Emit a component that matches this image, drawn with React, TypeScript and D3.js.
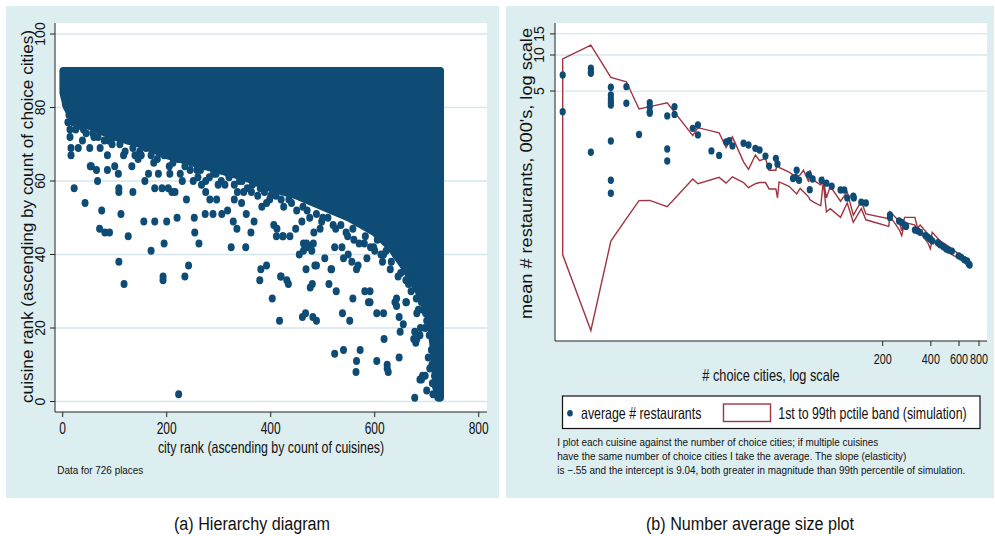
import React from "react";
import * as d3 from "d3";

const FONT = "'Liberation Sans', Arial, Helvetica, sans-serif";
const NAVY = "#0E4B75";
const MAROON = "#A03440";
const PANEL = "#DDEEF0";
const GRID = "#D5E7EC";

// ---- panel (a): hierarchy diagram ----
const xTicksA = [0, 200, 400, 600, 800];
const yTicksA = [0, 20, 40, 60, 80, 100];
const topCuisine = 90;
const lastCity = 726;
// lower edge of the solid block of points (city rank -> lowest cuisine rank)
const frontierCity = [1, 8, 20, 50, 100, 150, 200, 250, 300, 350, 400, 450, 500, 550, 600, 630, 655, 680, 700, 707, 712, 716, 719, 722];
const frontierCuisine = [84, 80, 77, 75, 72, 70, 67, 65, 63, 61, 58, 56, 53, 50, 46, 42, 37, 31, 26, 22, 16, 10, 4, 1];
// points hanging below the block: [city rank, cuisine rank]
const edgeA: [number, number][] = [
  [5, 81], [12, 78], [18, 77], [28, 76], [40, 74], [48, 76], [58, 73], [68, 72], [78, 74], [88, 71],
  [98, 72], [110, 70], [125, 71], [135, 69], [148, 68], [160, 69], [170, 67], [182, 66], [195, 67], [212, 65],
  [222, 66], [235, 64], [248, 65], [258, 63], [272, 64], [282, 61], [295, 62], [305, 60], [318, 62], [330, 59],
  [340, 60], [355, 58], [365, 59], [375, 56], [388, 57], [398, 55], [410, 56], [425, 53], [435, 55], [450, 52],
  [462, 53], [475, 50], [488, 51], [498, 49], [510, 50], [525, 47], [535, 48], [548, 45], [558, 47], [570, 43],
  [582, 45], [592, 42], [605, 44], [612, 40], [622, 41], [632, 38], [640, 40], [650, 35], [658, 37], [665, 32],
  [672, 34], [680, 28], [686, 30], [693, 25], [700, 22], [705, 18], [709, 14], [713, 12], [715, 7], [717, 4],
];
const scatterA: [number, number][] = [
  [3, 83], [10, 76], [14, 74], [14, 72], [16, 69], [16, 67], [22, 58], [30, 69], [38, 71], [43, 54],
  [52, 69], [53, 64], [55, 64], [65, 63], [67, 60], [72, 69], [75, 52], [71, 47], [81, 46], [90, 46],
  [86, 63], [86, 67], [100, 64], [107, 62], [108, 58], [108, 57], [112, 51], [108, 38], [118, 32], [126, 45],
  [133, 64], [135, 57], [117, 67], [139, 67], [151, 67], [156, 49], [177, 49], [200, 49], [158, 60], [177, 58],
  [165, 62], [184, 62], [170, 41], [195, 43], [191, 58], [203, 58], [210, 57], [216, 57], [220, 50], [206, 62],
  [226, 62], [230, 60], [238, 55], [242, 66], [245, 63], [253, 50], [254, 46], [262, 43], [251, 60], [260, 61],
  [267, 59], [275, 60], [275, 57], [274, 51], [289, 51], [283, 55], [296, 55], [299, 59], [312, 59], [306, 51],
  [317, 52], [324, 42], [352, 42], [328, 49], [335, 47], [353, 51], [362, 46], [368, 49], [193, 34], [193, 33],
  [235, 34], [242, 37], [223, 2], [330, 55], [336, 57], [344, 54], [348, 57], [363, 57], [383, 53], [392, 54],
  [406, 48], [412, 47], [423, 45], [437, 45], [448, 47], [460, 49], [455, 40], [463, 43], [472, 42], [479, 41],
  [483, 46], [495, 47], [504, 39], [523, 42], [540, 39], [549, 40], [585, 39], [598, 42], [617, 40], [620, 54],
  [379, 33], [381, 36], [392, 37], [403, 28], [417, 22], [420, 34], [431, 33], [434, 32], [461, 23], [467, 24],
  [468, 36], [481, 23], [488, 22], [476, 31], [480, 32], [485, 37], [516, 36], [512, 32], [526, 30], [523, 13],
  [540, 14], [538, 24], [552, 22], [558, 28], [565, 11], [564, 8], [572, 14], [604, 24], [617, 24], [604, 11],
  [618, 17], [624, 10], [624, 9], [626, 8], [639, 27], [647, 12], [649, 19], [647, 23], [655, 21], [660, 27],
  [677, 1], [675, 17], [679, 16], [687, 6], [692, 7], [688, 20], [700, 3], [703, 12], [706, 9], [411, 45],
  [424, 45], [419, 34], [463, 41], [469, 43], [482, 43], [488, 37], [517, 36], [537, 42], [556, 38], [565, 36],
  [568, 37], [581, 30], [591, 30], [588, 27], [591, 27], [642, 28], [642, 26], [661, 27], [677, 19], [681, 17],
  [687, 18], [690, 6], [697, 7], [703, 22], [697, 20], [681, 24], [684, 25], [710, 10], [711, 5], [712, 2],
  [20, 76], [25, 74], [35, 75], [45, 73], [60, 72], [80, 71], [95, 70], [120, 68], [145, 66], [175, 65],
  [205, 64], [265, 63], [290, 62], [320, 61], [345, 60], [380, 58], [400, 56], [420, 55], [440, 54], [470, 52],
  [500, 50], [520, 48], [545, 46], [560, 44], [580, 43], [600, 41], [615, 38], [630, 36], [645, 34], [660, 33],
  [670, 30], [690, 27], [698, 24],
];

// ---- panel (b): number average size plot ----
const xTicksB = [200, 400, 600, 800];
const yTicksB = [5, 10, 15];
const pointCities = [2, 2, 3, 3, 3, 3, 4, 4, 4, 4, 4, 4, 4, 4, 5, 5, 6, 7, 7, 7, 7, 9, 9, 9, 10, 10, 13, 14, 14, 17, 19, 21, 22, 23, 27, 29, 32, 34, 37, 39, 43, 44, 55, 57, 58, 60, 69, 70, 73, 83, 89, 96, 109, 115, 120, 131, 132, 147, 157, 222, 222, 253, 263, 274, 280, 318, 330, 343, 370, 383, 397, 408, 442, 457, 479, 499, 516, 542, 597, 618, 648, 674, 689, 699];
const pointMean = [6.81, 3.36, 7.74, 7.25, 7.03, 1.54, 5.37, 4.63, 4.29, 4.03, 3.82, 1.91, 0.9, 0.7, 5.44, 3.95, 2.17, 3.99, 3.7, 3.36, 3.26, 3.1, 1.64, 1.3, 3.7, 3.19, 2.44, 2.6, 2.15, 1.58, 1.45, 1.88, 1.92, 1.74, 1.83, 1.77, 1.66, 1.61, 1.43, 1.18, 1.37, 1.23, 0.93, 0.95, 1.09, 0.9, 1.0, 0.75, 0.92, 0.9, 0.85, 0.8, 0.745, 0.745, 0.64, 0.66, 0.64, 0.59, 0.58, 0.46, 0.44, 0.41, 0.4, 0.38, 0.37, 0.345, 0.34, 0.33, 0.31, 0.3, 0.29, 0.28, 0.27, 0.26, 0.25, 0.24, 0.235, 0.23, 0.21, 0.205, 0.195, 0.19, 0.18, 0.176];
const bandCities = [2, 3, 4, 5, 6, 7, 9, 13, 14, 19, 21, 23, 27, 29, 32, 34, 37, 39, 43, 44, 45, 52, 58, 61, 64, 69, 70, 74, 82, 85, 89, 94, 109, 120, 131, 147, 157, 218, 222, 253, 263, 274, 318, 330, 343, 383, 397, 408, 457, 499, 542, 618, 699];
const bandHigh = [9.26, 12.1, 6.51, 5.98, 3.54, 3.7, 3.99, 2.12, 2.47, 2.24, 1.69, 2.07, 1.28, 1.11, 1.46, 1.31, 1.37, 1.09, 1.09, 1.33, 1.15, 1.05, 0.95, 1.0, 1.09, 0.87, 1.09, 0.9, 0.82, 0.93, 0.64, 0.8, 0.6, 0.72, 0.46, 0.6, 0.47, 0.43, 0.49, 0.41, 0.34, 0.44, 0.44, 0.36, 0.38, 0.32, 0.27, 0.33, 0.28, 0.26, 0.24, 0.21, 0.185];
const bandLow = [0.214, 0.05, 0.279, 0.43, 0.607, 0.61, 0.54, 0.92, 0.84, 0.95, 0.85, 0.96, 0.86, 0.78, 0.84, 0.86, 0.86, 0.76, 0.76, 0.64, 0.87, 0.8, 0.69, 0.77, 0.72, 0.65, 0.62, 0.59, 0.55, 0.87, 0.49, 0.52, 0.44, 0.58, 0.4, 0.52, 0.42, 0.37, 0.45, 0.35, 0.31, 0.4, 0.38, 0.33, 0.33, 0.27, 0.24, 0.29, 0.25, 0.23, 0.215, 0.195, 0.17];

const noteLines = [
  "I plot each cuisine against the number of choice cities; if multiple cuisines",
  "have the same number of choice cities I take the average. The slope (elasticity)",
  "is \u2212.55 and the intercept is 9.04, both greater in magnitude than 99th percentile of simulation.",
];
const noteWidths = [321, 349, 408];

// layout
const A = { left: 55, top: 23, right: 487, bottom: 412 };
const B = { left: 555, top: 23, right: 987, bottom: 341 };

const xA = d3.scaleLinear().domain([0, 800]).range([62.7, 478.7]);
const yA = d3.scaleLinear().domain([0, 100]).range([401.5, 34]);
const xB = d3.scaleLog().domain([2, 200]).range([562.7, 882.7]);
const yB = d3.scaleLog().domain([1, 10]).range([174.7, 55]);

const SText: React.FC<{ x: number; y: number; size?: number; anchor?: string; sx?: number; len?: number; children: React.ReactNode }> = ({ x, y, size = 16.5, anchor = "middle", sx = 0.75, len, children }) => (
  <text
    transform={`translate(${x},${y}) scale(${sx},1)`}
    textAnchor={anchor as any}
    fontSize={size}
    fontFamily={FONT}
    fill="#111"
    textLength={len ? len / sx : undefined}
    lengthAdjust={len ? "spacingAndGlyphs" : undefined}
  >
    {children}
  </text>
);

const RText: React.FC<{ x: number; y: number; size?: number; len?: number; children: React.ReactNode }> = ({ x, y, size = 14, len, children }) => (
  <text
    transform={`translate(${x},${y}) rotate(-90)`}
    textAnchor="middle"
    fontSize={size}
    fontFamily={FONT}
    fill="#111"
    textLength={len}
    lengthAdjust={len ? "spacingAndGlyphs" : undefined}
  >
    {children}
  </text>
);

const App: React.FC = () => {
  // solid block of panel (a)
  const blockPts: [number, number][] = [[1, topCuisine], [lastCity, topCuisine], [lastCity, 1]];
  for (let i = frontierCity.length - 1; i >= 0; i--) blockPts.push([frontierCity[i], frontierCuisine[i]]);
  const blockPath = (d3.line<[number, number]>().x((d) => xA(d[0])).y((d) => yA(d[1]))(blockPts) || "") + "Z";

  // band polygon of panel (b)
  const bandPts: [number, number][] = [];
  bandCities.forEach((c, i) => bandPts.push([c, bandHigh[i]]));
  for (let i = bandCities.length - 1; i >= 0; i--) bandPts.push([bandCities[i], bandLow[i]]);
  const bandPath = (d3.line<[number, number]>().x((d) => xB(d[0])).y((d) => yB(d[1]))(bandPts) || "") + "Z";

  return (
    <svg width={995} height={536} style={{ position: "absolute", left: 0, top: 0, background: "#fff" }}>
      {/* panel backgrounds */}
      <rect x={6} y={6} width={493} height={492} fill={PANEL} />
      <rect x={506} y={6} width={488} height={492} fill={PANEL} />
      <rect x={A.left} y={A.top} width={A.right - A.left} height={A.bottom - A.top} fill="#fff" />
      <rect x={B.left} y={B.top} width={B.right - B.left} height={B.bottom - B.top} fill="#fff" />

      {/* ---- panel (a) ---- */}
      {yTicksA.map((t) => (
        <line key={"ga" + t} x1={A.left} x2={A.right} y1={yA(t)} y2={yA(t)} stroke={GRID} strokeWidth={1.3} />
      ))}
      <path d={blockPath} fill={NAVY} stroke={NAVY} strokeWidth={7.6} strokeLinejoin="round" />
      {edgeA.concat(scatterA).map((d, i) => (
        <ellipse key={"sa" + i} cx={xA(d[0])} cy={yA(d[1])} rx={3.5} ry={4} fill={NAVY} />
      ))}
      <line x1={A.left} x2={A.left} y1={A.top} y2={A.bottom} stroke="#222" strokeWidth={1} />
      <line x1={A.left} x2={A.right} y1={A.bottom} y2={A.bottom} stroke="#222" strokeWidth={1} />
      {yTicksA.map((t) => (
        <g key={"ya" + t}>
          <line x1={A.left - 5} x2={A.left} y1={yA(t)} y2={yA(t)} stroke="#222" />
          <RText x={45} y={yA(t)}>{t}</RText>
        </g>
      ))}
      {xTicksA.map((t) => (
        <g key={"xa" + t}>
          <line x1={xA(t)} x2={xA(t)} y1={A.bottom} y2={A.bottom + 5} stroke="#222" />
          <SText x={xA(t)} y={434} size={16}>{t}</SText>
        </g>
      ))}
      <SText x={(A.left + A.right) / 2} y={453} size={16.5}>city rank (ascending by count of cuisines)</SText>
      <RText x={32.5} y={216.5} size={16} len={373}>cuisine rank (ascending by count of choice cities)</RText>
      <SText x={57.3} y={474} size={11} anchor="start" len={86}>Data for 726 places</SText>

      {/* ---- panel (b) ---- */}
      {yTicksB.map((t) => (
        <line key={"gb" + t} x1={B.left} x2={B.right} y1={yB(t)} y2={yB(t)} stroke={GRID} strokeWidth={1.3} />
      ))}
      <path d={bandPath} fill="none" stroke={MAROON} strokeWidth={1.4} strokeLinejoin="miter" />
      {pointCities.map((c, i) => (
        <ellipse key={"pb" + i} cx={xB(c)} cy={yB(pointMean[i])} rx={3.1} ry={3.7} fill={NAVY} />
      ))}
      <line x1={B.left} x2={B.left} y1={B.top} y2={B.bottom} stroke="#222" strokeWidth={1} />
      <line x1={B.left} x2={B.right} y1={B.bottom} y2={B.bottom} stroke="#222" strokeWidth={1} />
      {yTicksB.map((t) => (
        <g key={"yb" + t}>
          <line x1={B.left - 5} x2={B.left} y1={yB(t)} y2={yB(t)} stroke="#222" />
          <RText x={544} y={yB(t)}>{t}</RText>
        </g>
      ))}
      {xTicksB.map((t) => (
        <g key={"xb" + t}>
          <line x1={xB(t)} x2={xB(t)} y1={B.bottom} y2={B.bottom + 5} stroke="#222" />
          <SText x={xB(t)} y={364} size={15.5} sx={0.7}>{t}</SText>
        </g>
      ))}
      <SText x={(B.left + B.right) / 2} y={381} size={17}># choice cities, log scale</SText>
      <RText x={531.7} y={173.5} size={16} len={291}>mean # restaurants, 000's, log scale</RText>

      {/* legend */}
      <rect x={562.5} y={396} width={417.5} height={32.5} fill="#fff" stroke="#111" strokeWidth={1.2} />
      <ellipse cx={570} cy={413.3} rx={2.8} ry={3.3} fill={NAVY} />
      <SText x={581} y={418.5} anchor="start">average # restaurants</SText>
      <rect x={723.5} y={404} width={47} height={17.5} fill="#fff" stroke={MAROON} strokeWidth={1.4} />
      <SText x={778.3} y={418.5} anchor="start">1st to 99th pctile band (simulation)</SText>

      {noteLines.map((l, i) => (
        <SText key={"n" + i} x={557.3} y={446 + i * 13.8} size={11} anchor="start" len={noteWidths[i]}>{l}</SText>
      ))}

      {/* captions */}
      <SText x={252} y={530} size={19} sx={0.85}>(a) Hierarchy diagram</SText>
      <SText x={750} y={530} size={19} sx={0.85}>(b) Number average size plot</SText>
    </svg>
  );
};

export default App;
